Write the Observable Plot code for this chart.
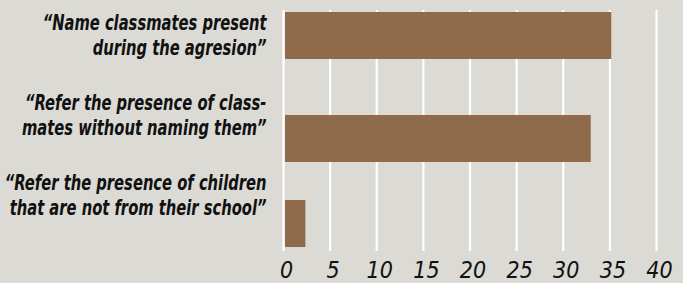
<!DOCTYPE html>
<html>
<head>
<meta charset="utf-8">
<script src="https://cdn.jsdelivr.net/npm/d3@7"></script>
<script src="https://cdn.jsdelivr.net/npm/@observablehq/plot@0.6"></script>
<style>
  html, body { margin: 0; padding: 0; background: #dbdad4; }
  #chart svg { display: block; }
</style>
</head>
<body>
<div id="chart"></div>
<script>
const categories = [
  "“Name classmates present\nduring the agresion”",
  "“Refer the presence of class-\nmates without naming them”",
  "“Refer the presence of children\nthat are not from their school”"
];
const values = [35.2, 33.0, 2.4];
const xTicks = [0, 5, 10, 15, 20, 25, 30, 35, 40];

const data = categories.map((c, i) => ({label: c, value: values[i]}));
// small per-row vertical nudges to follow the reference layout
const barDy = [0, 9, 0];
const labelDy = [-1.7, -15.2, -29.7];

const chart = Plot.plot({
  width: 683,
  height: 283,
  marginLeft: 283,
  marginRight: 27,
  marginTop: 11,
  marginBottom: 36,
  style: {background: "#dbdad4"},
  x: {domain: [0, 40]},
  y: {domain: categories, paddingInner: 0.5, paddingOuter: 0, axis: null},
  marks: [
    Plot.ruleX(xTicks, {stroke: "white", strokeWidth: 2.2, insetTop: -1, insetBottom: -4}),
    ...categories.map((c, i) => Plot.barX([data[i]], {
      x: "value", y: "label", fill: "#8f6a4b", insetLeft: 2, dy: barDy[i]
    })),
    Plot.axisX({
      ticks: xTicks, tickSize: 0, tickPadding: 14, dx: 3,
      fontSize: 23, fontStyle: "italic", fill: "#111",
      fontFamily: "'DejaVu Sans Condensed', sans-serif",
      label: null
    }),
    ...categories.map((c, i) => Plot.text([data[i]], {
      x: 0, y: "label", text: "label", dx: -17, dy: labelDy[i],
      textAnchor: "end", lineHeight: 25 / 21,
      fontSize: 21, fontWeight: "bold", fontStyle: "italic", fill: "#111",
      fontFamily: "'DejaVu Sans Condensed', sans-serif"
    }))
  ]
});
document.getElementById("chart").append(chart);
// condense the category labels horizontally (narrow font look)
d3.select(chart).selectAll('g[aria-label="text"] text').each(function () {
  const t = this.getAttribute("transform") || "";
  this.setAttribute("transform", t + " scale(0.78,1)");
});
</script>
</body>
</html>
